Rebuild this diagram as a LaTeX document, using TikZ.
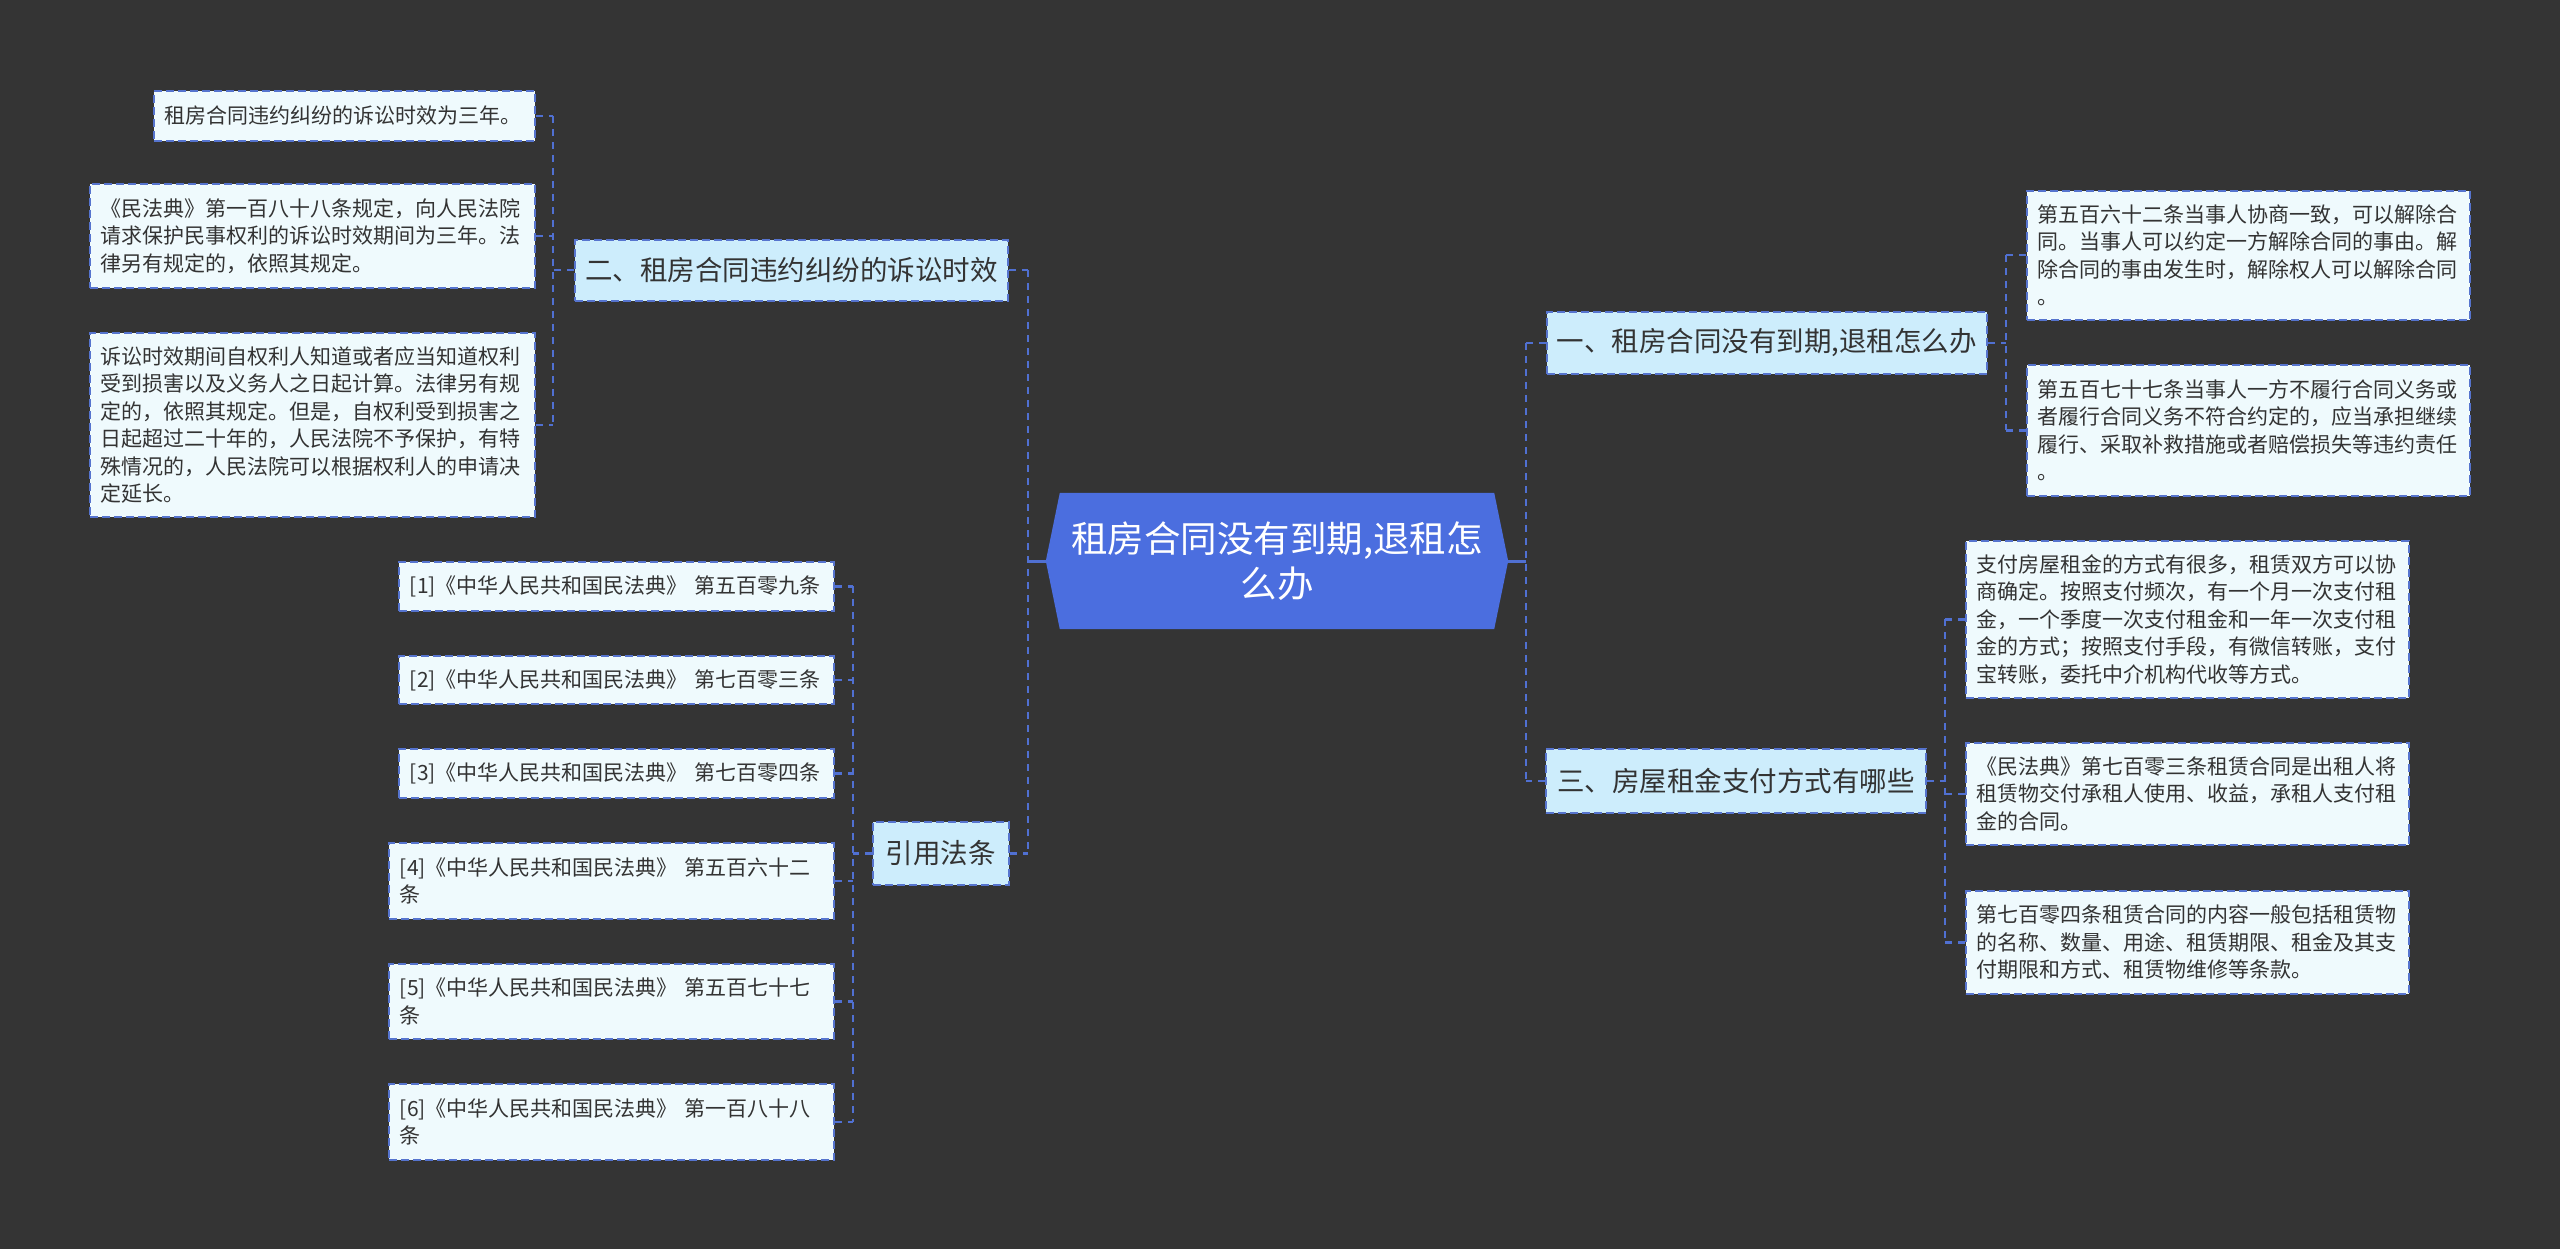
\documentclass[tikz,border=0pt]{standalone}
\usepackage{fontspec}
\setmainfont{Noto Sans CJK SC}
\usetikzlibrary{calc}
\pgfdeclarelayer{bg}
\pgfsetlayers{bg,main}
\definecolor{bgcol}{HTML}{343434}
\definecolor{leaffill}{HTML}{EFFAFD}
\definecolor{branchfill}{HTML}{CDEDFC}
\definecolor{bordercol}{HTML}{5674CE}
\definecolor{conncol}{HTML}{5070D2}
\definecolor{rootfill}{HTML}{4B6EDF}
\definecolor{txtcol}{HTML}{333333}
\begin{document}
\begin{tikzpicture}[x=1pt,y=-1pt,
  leaf/.style={draw=bordercol, line width=1.8pt, dash pattern=on 8pt off 4pt, fill=leaffill, text=txtcol,
    font=\fontsize{21}{27.5}\selectfont, align=left, inner xsep=11pt, inner ysep=0pt, anchor=north west},
  branch/.style={draw=bordercol, line width=1.8pt, dash pattern=on 8pt off 4pt, fill=branchfill, text=txtcol,
    font=\fontsize{27.5}{33}\selectfont, inner sep=0pt, anchor=north west},
  conn/.style={draw=conncol, line width=2.2pt, dash pattern=on 7pt off 6pt},
  mainconn/.style={draw=conncol, line width=2.8pt, dash pattern=on 7pt off 6pt},
  solidconn/.style={draw=conncol, line width=3pt}]
\begin{pgfonlayer}{bg}
\fill[bgcol] (0,0) rectangle (2560,1249);
\end{pgfonlayer}
\useasboundingbox (0,0) rectangle (2560,1249);

% root
\node[inner sep=0pt, minimum width=462pt, minimum height=136pt, text=white, align=center,
  font=\fontsize{36.5}{45}\selectfont] (root) at (1277,561) {租房合同没有到期,退租怎\\么办};
\begin{pgfonlayer}{bg}
\fill[rootfill] ([xshift=14pt]root.north west) -- ([xshift=-14pt]root.north east) -- (root.east)
  -- ([xshift=-14pt]root.south east) -- ([xshift=14pt]root.south west) -- (root.west) -- cycle;
\end{pgfonlayer}

% left upper group
\node[branch, minimum width=433pt, minimum height=61pt] (b2) at (574,239) {二、租房合同违约纠纷的诉讼时效};
\node[leaf, text width=359pt, minimum height=50pt] (l1) at (153,90) {租房合同违约纠纷的诉讼时效为三年。};
\node[leaf, text width=423pt, minimum height=104pt] (l2) at (89,183) {《民法典》第一百八十八条规定，向人民法院\\请求保护民事权利的诉讼时效期间为三年。法\\律另有规定的，依照其规定。};
\node[leaf, text width=423pt, minimum height=184pt] (l3) at (89,332) {诉讼时效期间自权利人知道或者应当知道权利\\受到损害以及义务人之日起计算。法律另有规\\定的，依照其规定。但是，自权利受到损害之\\日起超过二十年的，人民法院不予保护，有特\\殊情况的，人民法院可以根据权利人的申请决\\定延长。};

% left lower group
\node[branch, minimum width=136pt, minimum height=63pt] (bc) at (872,821) {引用法条};
\node[leaf, text width=413pt, minimum height=49pt] (c1) at (398,561) {[1]《中华人民共和国民法典》 第五百零九条};
\node[leaf, text width=413pt, minimum height=48pt] (c2) at (398,655) {[2]《中华人民共和国民法典》 第七百零三条};
\node[leaf, text width=413pt, minimum height=49pt] (c3) at (398,748) {[3]《中华人民共和国民法典》 第七百零四条};
\node[leaf, text width=423pt, minimum height=76pt] (c4) at (388,842) {[4]《中华人民共和国民法典》 第五百六十二\\条};
\node[leaf, text width=423pt, minimum height=75pt] (c5) at (388,963) {[5]《中华人民共和国民法典》 第五百七十七\\条};
\node[leaf, text width=423pt, minimum height=76pt] (c6) at (388,1083) {[6]《中华人民共和国民法典》 第一百八十八\\条};

% right upper group
\node[branch, minimum width=440pt, minimum height=62pt] (b1) at (1546,311) {一、租房合同没有到期,退租怎么办};
\node[leaf, text width=421pt, minimum height=129pt] (r1) at (2026,190) {第五百六十二条当事人协商一致，可以解除合\\同。当事人可以约定一方解除合同的事由。解\\除合同的事由发生时，解除权人可以解除合同\\。};
\node[leaf, text width=421pt, minimum height=131pt] (r2) at (2026,364) {第五百七十七条当事人一方不履行合同义务或\\者履行合同义务不符合约定的，应当承担继续\\履行、采取补救措施或者赔偿损失等违约责任\\。};

% right lower group
\node[branch, minimum width=380pt, minimum height=64pt] (b3) at (1545,748) {三、房屋租金支付方式有哪些};
\node[leaf, text width=421pt, minimum height=157pt] (p1) at (1965,540) {支付房屋租金的方式有很多，租赁双方可以协\\商确定。按照支付频次，有一个月一次支付租\\金，一个季度一次支付租金和一年一次支付租\\金的方式；按照支付手段，有微信转账，支付\\宝转账，委托中介机构代收等方式。};
\node[leaf, text width=421pt, minimum height=102pt] (p2) at (1965,742) {《民法典》第七百零三条租赁合同是出租人将\\租赁物交付承租人使用、收益，承租人支付租\\金的合同。};
\node[leaf, text width=421pt, minimum height=103pt] (p3) at (1965,890) {第七百零四条租赁合同的内容一般包括租赁物\\的名称、数量、用途、租赁期限、租金及其支\\付期限和方式、租赁物维修等条款。};

% bus positions
\coordinate (xa) at (553,0);
\coordinate (xc) at (853,0);
\coordinate (xl) at (1028,0);
\coordinate (xr) at (1526,0);
\coordinate (xb1) at (2006,0);
\coordinate (xb3) at (1945,0);

% connectors: root
\draw[solidconn] (root.west) -- (root.west -| xl);
\draw[solidconn] (root.east) -- (root.east -| xr);
\draw[mainconn] (b2.east -| xl) -- (bc.east -| xl);
\draw[conn] (b2.east) -- (b2.east -| xl);
\draw[conn] (bc.east) -- (bc.east -| xl);
\draw[mainconn] (b1.west -| xr) -- (b3.west -| xr);
\draw[conn] (b1.west) -- (b1.west -| xr);
\draw[conn] (b3.west) -- (b3.west -| xr);

% group b2
\draw[conn] (l1.east -| xa) -- (l3.east -| xa);
\foreach \n in {l1,l2,l3} \draw[conn] (\n.east) -- (\n.east -| xa);
\draw[conn] (b2.west) -- (b2.west -| xa);

% group bc
\draw[conn] (c1.east -| xc) -- (c6.east -| xc);
\foreach \n in {c1,c2,c3,c4,c5,c6} \draw[conn] (\n.east) -- (\n.east -| xc);
\draw[conn] (bc.west) -- (bc.west -| xc);

% group b1
\draw[conn] (r1.west -| xb1) -- (r2.west -| xb1);
\foreach \n in {r1,r2} \draw[conn] (\n.west) -- (\n.west -| xb1);
\draw[conn] (b1.east) -- (b1.east -| xb1);

% group b3
\draw[conn] (p1.west -| xb3) -- (p3.west -| xb3);
\foreach \n in {p1,p2,p3} \draw[conn] (\n.west) -- (\n.west -| xb3);
\draw[conn] (b3.east) -- (b3.east -| xb3);
\end{tikzpicture}
\end{document}
